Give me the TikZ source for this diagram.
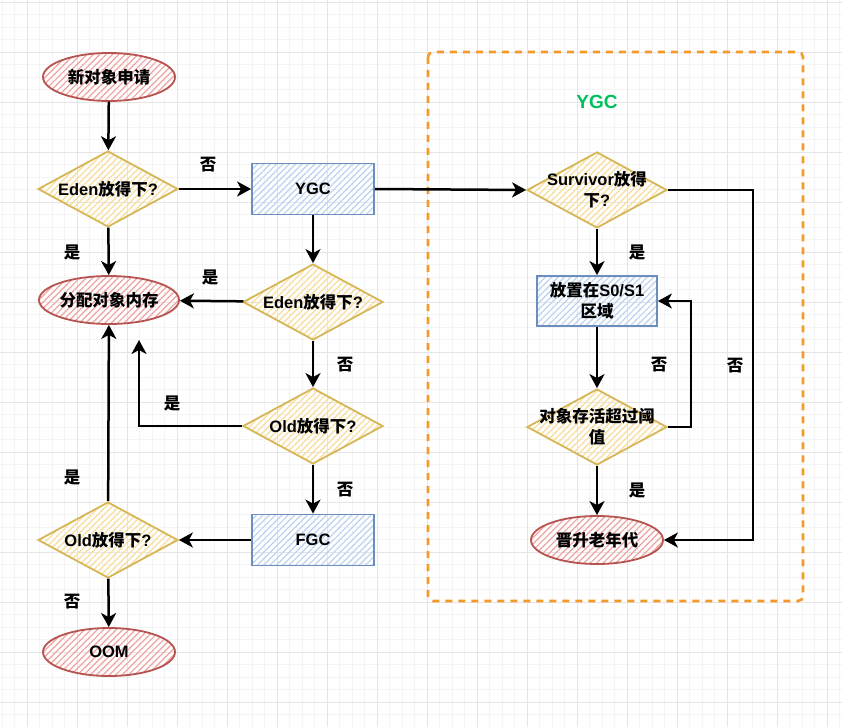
\documentclass[tikz,border=0pt]{standalone}
\usepackage{fontspec}
\setmainfont{Liberation Sans}
\newfontfamily\cjk{Noto Sans CJK SC}
\usetikzlibrary{shapes.geometric,arrows.meta,patterns.meta}
\definecolor{redS}{HTML}{B85450}
\definecolor{redF}{HTML}{EFA3A1}
\definecolor{bluS}{HTML}{6C8EBF}
\definecolor{bluF}{HTML}{BCD2F2}
\definecolor{yelS}{HTML}{D6B656}
\definecolor{yelF}{HTML}{F9DE9A}
\definecolor{orng}{HTML}{F39A2B}
\definecolor{grn}{HTML}{00C060}
\newcommand\zh[1]{{\cjk\bfseries #1}}
\begin{document}
\begin{tikzpicture}[x=1pt,y=-1pt,
  every node/.style={font=\bfseries\fontsize{16.5}{21}\selectfont},
  minorgrid/.style={draw=gray!9,line width=0.6pt},
  majorgrid/.style={draw=gray!20,line width=0.8pt},
  ell/.style={ellipse,draw=redS,line width=1.8pt,minimum width=132pt,minimum height=48pt,inner sep=0pt,
     pattern={Lines[angle=45,distance=4.5pt,line width=1.2pt]},pattern color=redF},
  box/.style={rectangle,draw=bluS,line width=1.8pt,minimum width=122pt,minimum height=51pt,inner sep=0pt,
     align=center,pattern={Lines[angle=45,distance=4.5pt,line width=1.2pt]},pattern color=bluF},
  dia/.style={diamond,draw=yelS,line width=1.8pt,minimum width=140pt,minimum height=76pt,inner sep=0pt,
     pattern={Lines[angle=45,distance=4.5pt,line width=1.2pt]},pattern color=yelF},
  txt/.style={align=center,inner sep=0pt},
  lbl/.style={inner sep=0pt},
  arr/.style={draw=black,line width=2.5pt,-{Stealth[length=14pt,width=15pt,inset=4pt]}}]
\useasboundingbox (0,0) rectangle (842,727);
\fill[white] (0,0) rectangle (842,727);
% grid
\foreach \i in {0,...,67} \draw[minorgrid] ({2+12.5*\i},0) -- ({2+12.5*\i},727);
\foreach \i in {0,...,58} \draw[minorgrid] (0,{2+12.5*\i}) -- (842,{2+12.5*\i});
\foreach \i in {0,...,16} \draw[majorgrid] ({27+50*\i},0) -- ({27+50*\i},727);
\foreach \i in {0,...,14} \draw[majorgrid] (0,{2+50*\i}) -- (842,{2+50*\i});
% YGC region
\draw[orng,line width=2.6pt,dash pattern=on 7pt off 6pt,rounded corners=5pt] (428,52) rectangle (803,601);
\node[text=grn,font=\bfseries\fontsize{19}{23}\selectfont] (ygclbl) at (597,102) {YGC};
% left column
\node[ell] (new) at (109,77) {\zh{新对象申请}};
\node[dia] (e1) at (108,189) {};
\node[txt] (e1t) at (e1) {Eden\zh{放得下}?};
\node[box] (ygc) at (313,189) {YGC};
\node[ell] (alloc) at (109,300) {\zh{分配对象内存}};
\node[dia] (e2) at (313,302) {};
\node[txt] (e2t) at (e2) {Eden\zh{放得下}?};
\node[dia] (old1) at (313,426) {};
\node[txt] (old1t) at (old1) {Old\zh{放得下}?};
\node[box] (fgc) at (313,540) {FGC};
\node[dia] (old2) at (108,540) {};
\node[txt] (old2t) at (old2) {Old\zh{放得下}?};
\node[ell] (oom) at (109,652) {OOM};
% right column
\node[dia] (surv) at (597,190) {};
\node[txt] (survt) at (surv) {Survivor\zh{放得}\\\zh{下}?};
\node[box,minimum width=120pt,minimum height=50pt] (s01) at (597,301) {\zh{放置在}S0/S1\\\zh{区域}};
\node[dia] (thr) at (597,427) {};
\node[txt] (thrt) at (thr) {\zh{对象存活超过阈}\\\zh{值}};
\node[ell] (prom) at (597,540) {\zh{晋升老年代}};
\coordinate (c1) at (139,340);
% connectors
\draw[arr] (new) -- (e1);
\draw[arr] (e1) -- (ygc);
\draw[arr] (ygc.east) -- (surv.west);
\draw[arr] (e1) -- (alloc);
\draw[arr] (ygc) -- (e2);
\draw[arr] (e2) -- (alloc);
\draw[arr] (e2) -- (old1);
\draw[arr] (old1.west) -| (c1);
\draw[arr] (old1) -- (fgc);
\draw[arr] (fgc) -- (old2);
\draw[arr] (old2) -- (alloc);
\draw[arr] (old2) -- (oom);
\draw[arr] (surv.east) -- ++(85,0) |- (prom.east);
\draw[arr] (surv) -- (s01);
\draw[arr] (s01) -- (thr);
\draw[arr] (thr.east) -- ++(23,0) |- (s01.east);
\draw[arr] (thr) -- (prom);
% labels
\node[lbl] (l1) at (208,165) {\zh{否}};
\node[lbl] (l2) at (72,252) {\zh{是}};
\node[lbl] (l3) at (210,277) {\zh{是}};
\node[lbl] (l4) at (345,365) {\zh{否}};
\node[lbl] (l5) at (172,403) {\zh{是}};
\node[lbl] (l6) at (345,490) {\zh{否}};
\node[lbl] (l7) at (72,477) {\zh{是}};
\node[lbl] (l8) at (72,602) {\zh{否}};
\node[lbl] (l9) at (637,252) {\zh{是}};
\node[lbl] (l10) at (659,365) {\zh{否}};
\node[lbl] (l11) at (735,366) {\zh{否}};
\node[lbl] (l12) at (637,490) {\zh{是}};
\end{tikzpicture}
\end{document}
